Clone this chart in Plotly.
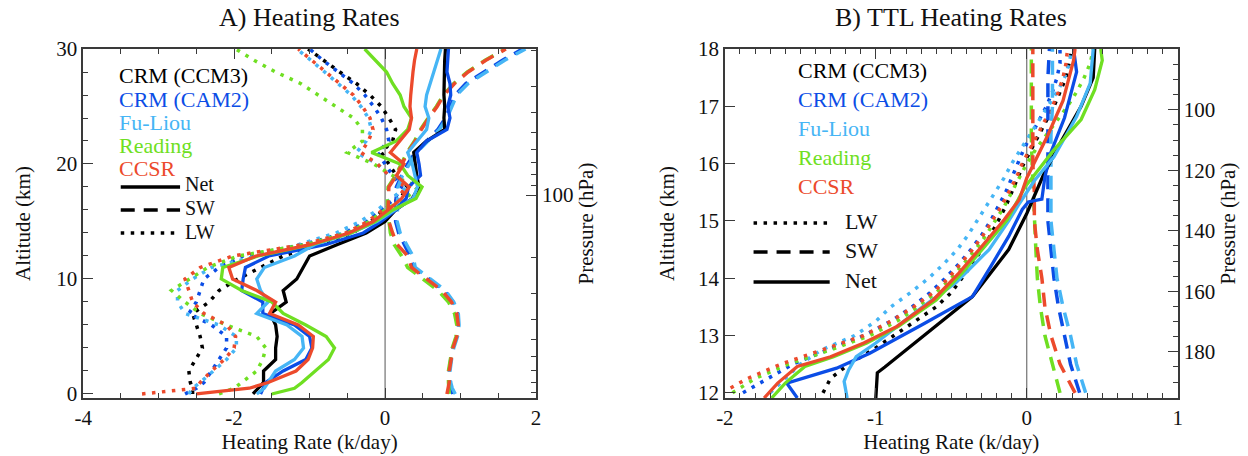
import plotly.graph_objects as go
import numpy as np

# ---------------- DATA ----------------
MODELS = ["CRM (CCM3)", "CRM (CAM2)", "Fu-Liou", "Reading", "CCSR"]

# Panel A: altitude grid (km)
Z_A = [0, 0.5, 1, 2, 3, 4, 5, 6, 7, 8, 9, 10, 11, 12, 13, 14, 15, 16, 17, 18,
       19, 20, 21, 22, 23, 24, 25, 26, 27, 28, 29, 30]

A_NET_CCM3 = [-1.75, -1.68, -1.61, -1.61, -1.45, -1.45, -1.43, -1.45, -1.52, -1.31, -1.35, -1.17, -1.08, -1.0, -0.63, -0.25,
              0.0, 0.14, 0.36, 0.45, 0.42, 0.40, 0.38, 0.55, 0.79, 0.78, 0.79, 0.78, 0.78, 0.78, 0.79, 0.80]
A_NET_CAM2 = [-1.65, -1.62, -1.58, -1.35, -1.05, -0.97, -1.0, -1.2, -1.62, -1.62, -1.9, -1.88, -1.85, -1.54, -0.78, -0.29,
              -0.05, 0.14, 0.28, 0.31, 0.47, 0.45, 0.42, 0.55, 0.82, 0.86, 0.83, 0.87, 0.86, 0.82, 0.83, 0.84]
A_NET_FULIOU = [-1.7, -1.6, -1.55, -1.45, -1.2, -1.08, -1.1, -1.3, -1.7, -1.55, -1.65, -1.7, -1.6, -1.2, -0.93, -0.45,
                -0.11, 0.14, 0.37, 0.43, 0.4, 0.36, 0.3, 0.42, 0.55, 0.58, 0.53, 0.55, 0.6, 0.65, 0.7, 0.74]
A_NET_READING = [-1.5, -1.2, -1.1, -0.92, -0.75, -0.67, -0.78, -1.05, -1.35, -1.5, -1.9, -2.17, -2.15, -1.68, -0.96, -0.45,
                 -0.13, 0.1, 0.41, 0.49, 0.3, 0.2, -0.18, 0.15, 0.3, 0.35, 0.25, 0.2, 0.1, 0.02, -0.13, -0.27]
A_NET_CCSR = [-2.5, -1.8, -1.55, -1.18, -1.02, -0.96, -0.95, -1.15, -1.53, -1.45, -1.7, -2.02, -2.07, -1.71, -0.98, -0.48,
              -0.16, 0.04, 0.22, 0.32, 0.15, 0.25, 0.07, 0.2, 0.32, 0.35, 0.33, 0.34, 0.35, 0.37, 0.39, 0.42]

A_SW_CAM2 = [0.9, 0.87, 0.86, 0.85, 0.87, 0.9, 0.95, 0.97, 0.96, 0.9, 0.78, 0.58, 0.38, 0.33, 0.25, 0.18,
             0.14, 0.14, 0.14, 0.15, 0.22, 0.3, 0.4, 0.55, 0.7, 0.8, 0.86, 0.93, 1.07, 1.3, 1.55, 1.82]
A_SW_FULIOU = [0.93, 0.89, 0.87, 0.86, 0.88, 0.91, 0.96, 0.98, 0.97, 0.91, 0.8, 0.6, 0.4, 0.37, 0.29, 0.2,
               0.16, 0.16, 0.17, 0.17, 0.23, 0.32, 0.42, 0.57, 0.72, 0.82, 0.88, 0.95, 1.1, 1.33, 1.58, 1.86]
A_SW_READING = [0.85, 0.84, 0.84, 0.84, 0.86, 0.89, 0.94, 0.95, 0.92, 0.84, 0.7, 0.5, 0.3, 0.22, 0.12, 0.07,
                0.05, 0.035, 0.03, 0.04, 0.14, 0.21, 0.29, 0.39, 0.47, 0.57, 0.68, 0.77, 0.91, 1.09, 1.32, 1.59]
A_SW_CCSR = [0.82, 0.84, 0.85, 0.85, 0.87, 0.9, 0.95, 0.97, 0.95, 0.88, 0.75, 0.55, 0.35, 0.3, 0.16, 0.1,
             0.05, 0.04, 0.04, 0.05, 0.15, 0.22, 0.3, 0.4, 0.48, 0.58, 0.69, 0.78, 0.92, 1.1, 1.33, 1.6]

A_LW_CCM3 = [-2.55, -2.55, -2.58, -2.6, -2.51, -2.42, -2.45, -2.5, -2.55, -2.33, -2.2, -1.95, -1.65, -1.35, -0.88, -0.43,
             -0.19, -0.02, 0.2, 0.3, 0.15, 0.05, -0.05, 0.1, 0.14, 0.05, -0.05, -0.2, -0.38, -0.6, -0.82, -1.02]
A_LW_CAM2 = [-2.65, -2.5, -2.4, -2.3, -2.2, -2.1, -2.1, -2.3, -2.6, -2.5, -2.45, -2.4, -2.2, -1.88, -1.08, -0.54,
             -0.24, -0.06, 0.13, 0.22, 0.1, 0.0, -0.1, 0.05, 0.02, -0.05, -0.15, -0.27, -0.42, -0.62, -0.82, -1.0]
A_LW_FULIOU = [-2.6, -2.55, -2.45, -2.28, -2.1, -1.97, -1.97, -2.2, -2.65, -2.75, -2.75, -2.55, -2.3, -1.7, -1.14, -0.65,
               -0.33, -0.1, 0.08, 0.3, 0.05, -0.1, -0.38, -0.25, -0.18, -0.22, -0.32, -0.45, -0.62, -0.8, -0.98, -1.17]
A_LW_READING = [-2.2, -2.0, -1.9, -1.7, -1.62, -1.58, -1.7, -2.1, -2.45, -2.65, -2.83, -2.6, -2.35, -1.95, -1.04, -0.5,
                -0.21, 0.0, 0.27, 0.44, 0.1, -0.15, -0.5, -0.3, -0.3, -0.42, -0.65, -0.88, -1.12, -1.45, -1.73, -1.98]
A_LW_CCSR = [-3.22, -2.5, -2.45, -2.3, -2.13, -2.0, -1.98, -2.1, -2.4, -2.55, -2.6, -2.65, -2.45, -2.02, -1.08, -0.52,
             -0.23, -0.03, 0.17, 0.27, 0.05, -0.1, -0.32, -0.22, -0.16, -0.2, -0.3, -0.42, -0.6, -0.78, -0.97, -1.15]

# Panel B (TTL)
Z_B = [12.0, 12.25, 12.5, 12.75, 13.0, 13.25, 13.5, 13.75, 14.0, 14.25, 14.5, 14.75, 15.0,
       15.25, 15.5, 15.75, 16.0, 16.25, 16.5, 16.75, 17.0, 17.25, 17.5, 17.75, 18.0]
Z_B_SW = [12.0, 12.5, 13.0, 13.5, 14.0, 14.5, 15.0, 15.5, 16.0, 16.5, 17.0, 17.5, 18.0]

B_LW_CCM3 = [-1.35, -1.3, -1.18, -1.02, -0.88, -0.74, -0.6, -0.5, -0.43, -0.36, -0.3, -0.24, -0.19,
             -0.14, -0.1, -0.06, -0.02, 0.03, 0.08, 0.13, 0.18, 0.22, 0.26, 0.28, 0.3]
B_LW_CAM2 = [-1.88, -1.72, -1.55, -1.32, -1.08, -0.9, -0.76, -0.64, -0.54, -0.45, -0.37, -0.3, -0.24,
             -0.19, -0.14, -0.1, -0.06, -0.02, 0.03, 0.08, 0.13, 0.17, 0.2, 0.22, 0.22]
B_LW_FULIOU = [-1.7, -1.6, -1.5, -1.36, -1.14, -1.0, -0.9, -0.77, -0.65, -0.55, -0.46, -0.39, -0.33,
               -0.27, -0.21, -0.15, -0.1, -0.04, 0.02, 0.08, 0.14, 0.2, 0.25, 0.28, 0.3]
B_LW_READING = [-1.95, -1.8, -1.58, -1.3, -1.04, -0.86, -0.72, -0.6, -0.5, -0.42, -0.34, -0.27, -0.21,
                -0.15, -0.1, -0.05, 0.0, 0.06, 0.13, 0.2, 0.27, 0.33, 0.38, 0.42, 0.44]
B_LW_CCSR = [-2.02, -1.85, -1.63, -1.35, -1.08, -0.9, -0.75, -0.62, -0.52, -0.44, -0.36, -0.29, -0.23,
             -0.17, -0.12, -0.07, -0.03, 0.02, 0.07, 0.12, 0.17, 0.21, 0.24, 0.26, 0.27]

B_SW_CAM2 = [0.35, 0.29, 0.25, 0.21, 0.18, 0.16, 0.14, 0.14, 0.14, 0.14, 0.14, 0.14, 0.15]
B_SW_FULIOU = [0.39, 0.33, 0.29, 0.24, 0.2, 0.18, 0.16, 0.16, 0.16, 0.16, 0.17, 0.17, 0.17]
B_SW_READING = [0.22, 0.17, 0.12, 0.09, 0.07, 0.06, 0.05, 0.04, 0.035, 0.03, 0.03, 0.03, 0.03]
B_SW_CCSR = [0.32, 0.22, 0.16, 0.12, 0.1, 0.07, 0.05, 0.05, 0.04, 0.04, 0.04, 0.04, 0.04]

# net profiles in the TTL as (altitude km, heating rate K/day) vertices
B_NET_CCM3 = [(11.91, -1.0), (12.35, -0.99), (12.45, -0.94), (12.75, -0.8), (13.1, -0.63), (13.68, -0.36),
              (14.5, -0.12), (15.13, 0.0), (15.8, 0.11), (16.4, 0.23), (17.0, 0.36), (17.5, 0.44), (18.0, 0.45)]
B_NET_CAM2 = [(11.91, -1.52), (12.17, -1.59), (12.43, -1.26), (12.69, -1.04), (13.18, -0.70), (13.68, -0.36),
              (14.2, -0.24), (14.73, -0.12), (15.2, -0.03), (15.33, 0.01), (15.38, 0.1), (15.77, 0.12),
              (16.2, 0.16), (16.8, 0.25), (17.3, 0.3), (17.6, 0.33), (18.0, 0.31)]
B_NET_FULIOU = [(11.91, -1.19), (12.2, -1.21), (12.4, -1.18), (12.63, -1.13), (12.87, -1.0), (13.5, -0.69),
                (13.92, -0.47), (14.5, -0.25), (15.0, -0.12), (15.3, -0.05), (15.7, 0.05), (16.12, 0.18),
                (16.82, 0.33), (17.4, 0.42), (18.0, 0.44)]
B_NET_READING = [(11.91, -1.69), (12.17, -1.6), (12.46, -1.47), (12.63, -1.28), (12.87, -1.06), (13.16, -0.85),
                 (13.62, -0.6), (14.09, -0.43), (14.55, -0.28), (15.02, -0.13), (15.6, -0.01), (16.24, 0.18),
                 (16.77, 0.36), (17.29, 0.45), (17.8, 0.5), (18.0, 0.49)]
B_NET_CCSR = [(11.91, -1.74), (12.17, -1.65), (12.46, -1.52), (12.63, -1.30), (12.87, -1.08), (13.16, -0.86),
              (13.62, -0.62), (14.09, -0.45), (14.55, -0.3), (15.02, -0.15), (15.37, -0.05), (15.75, 0.0),
              (16.5, 0.14), (17.1, 0.24), (17.8, 0.31), (18.0, 0.32)]

# axis tick labels
X_A_TICKS = [-4, -2, 0, 2]
X_B_TICKS = [-2, -1, 0, 1]
P_A_MAJOR = [100]
P_A_MINOR = [20, 30, 40, 50, 60, 70, 80, 90, 200, 300, 400, 500, 600, 700, 800, 900]
P_B_MAJOR = [100, 120, 140, 160, 180]
P_B_MINOR = [85, 90, 95, 105, 110, 115, 125, 130, 135, 145, 150, 155, 165, 170, 175, 185, 190]

# ---------------- STYLE ----------------
W, H = 1248, 456
MT, MB = 49, 58
FONT = "Liberation Serif, Times New Roman, serif"
AXC = "#3a3a3a"
COL = {"CRM (CCM3)": "#000000", "CRM (CAM2)": "#0b4de6", "Fu-Liou": "#46b5f5",
       "Reading": "#6fdf22", "CCSR": "#ec4a2c"}
DOT = "3.5px,6.5px"
DASH = "14px,9px"


def px_x(px):
    return px / W


def px_y(py):
    return (H - MB - py) / (H - MT - MB)


def alt_a(p):  # altitude of a pressure level, panel A scale-height relation
    return 17.3 - 7.83 * np.log(np.asarray(p, float) / 100.0)


def alt_b(p):  # altitude of a pressure level in the TTL panel
    return 16.94 - 0.0528 * (np.asarray(p, float) - 100.0)


def lab(v):
    return str(v).replace("\u2212", "-")


fig = go.Figure()

A_LW = [A_LW_CCM3, A_LW_CAM2, A_LW_FULIOU, A_LW_READING, A_LW_CCSR]
A_SW = [None, A_SW_CAM2, A_SW_FULIOU, A_SW_READING, A_SW_CCSR]
A_NET = [A_NET_CCM3, A_NET_CAM2, A_NET_FULIOU, A_NET_READING, A_NET_CCSR]
B_LW = [B_LW_CCM3, B_LW_CAM2, B_LW_FULIOU, B_LW_READING, B_LW_CCSR]
B_SW = [None, B_SW_CAM2, B_SW_FULIOU, B_SW_READING, B_SW_CCSR]
B_NET = [B_NET_CCM3, B_NET_CAM2, B_NET_FULIOU, B_NET_READING, B_NET_CCSR]


def add(x, y, color, dash, width, xa, ya):
    fig.add_trace(go.Scatter(x=x, y=y, mode="lines", xaxis=xa, yaxis=ya, showlegend=False,
                             hoverinfo="skip", line=dict(color=color, width=width, dash=dash)))


for m, v in zip(MODELS, A_LW):
    add(v, Z_A, COL[m], DOT, 3.5, "x", "y")
for m, v in zip(MODELS, A_SW):
    if v is not None:
        add(v, Z_A, COL[m], DASH, 3.5, "x", "y")
for m, v in zip(MODELS, A_NET):
    add(v, Z_A, COL[m], "solid", 3.3, "x", "y")

for m, v in zip(MODELS, B_LW):
    add(v, Z_B, COL[m], DOT, 3.5, "x2", "y2")
for m, v in zip(MODELS, B_SW):
    if v is not None:
        add(v, Z_B_SW, COL[m], DASH, 3.5, "x2", "y2")
for m, v in zip(MODELS, B_NET):
    add([p[1] for p in v], [p[0] for p in v], COL[m], "solid", 3.3, "x2", "y2")

# dummy traces so the pressure axes are drawn
fig.add_trace(go.Scatter(x=[None], y=[None], xaxis="x", yaxis="y3", showlegend=False))
fig.add_trace(go.Scatter(x=[None], y=[None], xaxis="x2", yaxis="y4", showlegend=False))

tickfont = dict(family=FONT, size=21, color="#111")
titlefont = dict(family=FONT, size=21, color="#111")
common = dict(showgrid=False, zeroline=False, showline=True, linecolor=AXC, linewidth=1.5,
              ticks="inside", ticklen=10, tickwidth=1.2, tickcolor=AXC, tickfont=tickfont)
minor = dict(ticks="inside", ticklen=5, tickwidth=1.2, tickcolor=AXC, showgrid=False)

RA = [-0.35, 30]
RB = [11.91, 18]

fig.update_layout(
    width=W, height=H, margin=dict(l=0, r=0, t=MT, b=MB),
    paper_bgcolor="white", plot_bgcolor="white",
    xaxis=dict(domain=[px_x(75), px_x(533)], range=[-4, 2], anchor="y", tickmode="array",
               tickvals=X_A_TICKS, ticktext=[lab(v) for v in X_A_TICKS],
               minor=dict(tickmode="linear", dtick=0.5, tick0=0, **minor), mirror="ticks",
               title=dict(text="Heating Rate (k/day)", font=titlefont, standoff=4), **common),
    yaxis=dict(domain=[0, 1], range=RA, anchor="x", tick0=0, dtick=10,
               minor=dict(dtick=2, tick0=0, **minor),
               title=dict(text="Altitude (km)", font=titlefont, standoff=20), **common),
    yaxis3=dict(overlaying="y", side="right", anchor="x", range=RA, tickmode="array",
                tickvals=list(alt_a(P_A_MAJOR)), ticktext=[str(p) for p in P_A_MAJOR],
                minor=dict(tickmode="array", tickvals=list(alt_a(P_A_MINOR)), **minor),
                title=dict(text="Pressure (hPa)", font=titlefont, standoff=6), **common),
    xaxis2=dict(domain=[px_x(724), px_x(1182)], range=[-2, 1], anchor="y2", tickmode="array",
                tickvals=X_B_TICKS, ticktext=[lab(v) for v in X_B_TICKS],
                minor=dict(tickmode="linear", dtick=0.1, tick0=0, **minor), mirror="ticks",
                title=dict(text="Heating Rate (k/day)", font=titlefont, standoff=4), **common),
    yaxis2=dict(domain=[0, 1], range=RB, anchor="x2", tick0=12, dtick=1,
                title=dict(text="Altitude (km)", font=titlefont, standoff=18), **common),
    yaxis4=dict(overlaying="y2", side="right", anchor="x2", range=RB, tickmode="array",
                tickvals=list(alt_b(P_B_MAJOR)), ticktext=[str(p) for p in P_B_MAJOR],
                minor=dict(tickmode="array", tickvals=list(alt_b(P_B_MINOR)), **minor),
                title=dict(text="Pressure (hPa)", font=titlefont, standoff=6), **common),
)

# zero lines
for xa, ya in (("x", "y domain"), ("x2", "y2 domain")):
    fig.add_shape(type="line", xref=xa, yref=ya, x0=0, x1=0, y0=0, y1=1,
                  line=dict(color="#555", width=1), layer="below")

# titles
for txt, xc in (("A) Heating Rates", 304), ("B) TTL Heating Rates", 953)):
    fig.add_annotation(text=txt, xref="paper", yref="paper", x=px_x(xc), y=px_y(18),
                       xanchor="center", yanchor="middle", showarrow=False,
                       font=dict(family=FONT, size=26, color="#111"))

# legends
LEGA_Y = [76, 99, 122, 145, 168]
LEGB_Y = [70, 99, 128, 157, 186]
for m, ya, yb in zip(MODELS, LEGA_Y, LEGB_Y):
    for xpx, ypx in ((110, ya), (797, yb)):
        fig.add_annotation(text=m, xref="paper", yref="paper", x=px_x(xpx), y=px_y(ypx),
                           xanchor="left", yanchor="middle", showarrow=False, borderpad=0,
                           font=dict(family=FONT, size=22, color=COL[m]))

styles = {"Net": "solid", "SW": DASH, "LW": DOT}
for name, ypx, ty in (("Net", 187, 184), ("SW", 210, 208), ("LW", 233, 232)):
    fig.add_shape(type="line", xref="paper", yref="paper", x0=px_x(113), x1=px_x(173),
                  y0=px_y(ypx), y1=px_y(ypx), line=dict(color="black", width=3.5, dash=styles[name]))
    fig.add_annotation(text=name, xref="paper", yref="paper", x=px_x(177), y=px_y(ty),
                       xanchor="left", yanchor="middle", showarrow=False, borderpad=0,
                       font=dict(family=FONT, size=20, color="#111"))
for name, ypx in (("LW", 223), ("SW", 252), ("Net", 282)):
    fig.add_shape(type="line", xref="paper", yref="paper", x0=px_x(753), x1=px_x(830),
                  y0=px_y(ypx), y1=px_y(ypx), line=dict(color="black", width=3.5, dash=styles[name]))
    fig.add_annotation(text=name, xref="paper", yref="paper", x=px_x(844), y=px_y(ypx - 2),
                       xanchor="left", yanchor="middle", showarrow=False, borderpad=0,
                       font=dict(family=FONT, size=22, color="#111"))

fig.write_html("out.html")
